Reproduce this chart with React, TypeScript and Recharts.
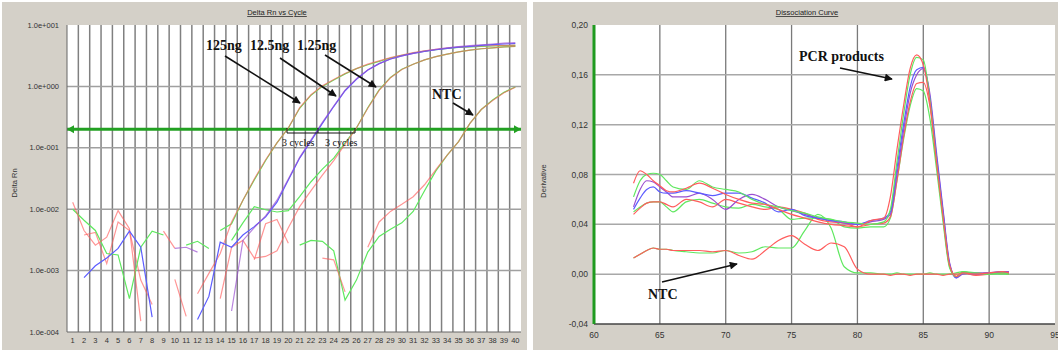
import { LineChart, Line, XAxis, YAxis, CartesianGrid, ReferenceLine } from 'recharts';

// ---- amplification plot (Delta Rn vs Cycle) ----
const cycles = [1, 2, 3, 4, 5, 6, 7, 8, 9, 10, 11, 12, 13, 14, 15, 16, 17, 18, 19, 20,
  21, 22, 23, 24, 25, 26, 27, 28, 29, 30, 31, 32, 33, 34, 35, 36, 37, 38, 39, 40];
const logTicks = [0.0001, 0.001, 0.01, 0.1, 1, 10];
const threshold = 0.2;

const g125 = [0.01, 0.0066, 0.0045, 0.0019, 0.0018, 0.00035, 0.0024, 0.0044, 0.0038, null,
  null, null, null, 0.0045, 0.0058, 0.014, 0.03, 0.062, 0.12, 0.21,
  0.44, 0.72, 1.0, 1.27, 1.6, 1.95, 2.25, 2.55, 2.9, 3.2,
  3.5, 3.75, 3.95, 4.15, 4.3, 4.4, 4.5, 4.55, 4.6, 4.65];
const r125 = [0.013, 0.0045, 0.0026, 0.0035, 0.0095, 0.0048, 0.00015, null, 0.0044, 0.0023,
  null, 0.00042, 0.0009, 0.0019, 0.0062, 0.014, 0.031, 0.064, 0.12, 0.21,
  0.45, 0.73, 1.02, 1.3, 1.62, 1.95, 2.3, 2.6, 2.95, 3.25,
  3.55, 3.8, 4.0, 4.2, 4.35, 4.45, 4.55, 4.6, 4.65, 4.7];
const b12 = [null, 0.00077, 0.0012, 0.0016, 0.0023, 0.0044, 0.0024, 0.000175, null, null,
  null, 0.00016, 0.00038, 0.0029, 0.0024, 0.0038, 0.0052, 0.0075, 0.013, 0.03,
  0.068, 0.13, 0.25, 0.47, 0.85, 1.3, 1.85, 2.35, 2.8, 3.15,
  3.45, 3.7, 3.95, 4.15, 4.35, 4.5, 4.65, 4.8, 4.9, 5.0];
const p12 = [null, null, null, null, null, null, null, null, null, 0.0023,
  0.0024, 0.002, null, null, 0.00022, 0.0031, 0.005, 0.0078, 0.014, 0.031,
  0.07, 0.135, 0.26, 0.48, 0.87, 1.33, 1.85, 2.35, 2.8, 3.15,
  3.45, 3.75, 4.0, 4.25, 4.45, 4.6, 4.75, 4.9, 5.05, 5.15];
const g1 = [null, null, null, null, null, null, null, null, null, null,
  null, null, null, null, 0.0031, 0.006, 0.011, 0.0098, 0.009, 0.0095,
  0.016, 0.028, 0.045, 0.068, 0.12, 0.21, 0.45, 0.88, 1.4, 1.9,
  2.3, 2.7, 3.05, 3.35, 3.65, 3.9, 4.1, 4.25, 4.4, 4.5];
const r1 = [null, null, null, null, null, null, null, null, null, 0.00072,
  0.00018, null, null, 0.00035, 0.0024, 0.0031, 0.0016, 0.0017, 0.0021, 0.005,
  0.011, 0.02, 0.036, 0.062, 0.115, 0.21, 0.44, 0.86, 1.38, 1.88,
  2.3, 2.7, 3.05, 3.35, 3.65, 3.9, 4.1, 4.25, 4.4, 4.5];
const gN = [null, null, null, null, null, null, null, null, null, null,
  0.0026, 0.003, 0.0023, null, null, null, null, null, null, null,
  0.0026, 0.0031, 0.003, 0.0021, 0.00033, 0.0007, 0.002, 0.0036, 0.0047, 0.006,
  0.0092, 0.02, 0.042, 0.076, 0.126, 0.25, 0.42, 0.6, 0.8, 0.98];
const rN = [null, 0.0038, 0.0042, 0.0013, 0.0062, 0.0045, 0.0007, 0.00028, null, null,
  null, null, null, null, null, null, 0.0015, 0.0058, 0.0068, 0.0028,
  null, null, 0.0016, 0.0015, 0.00045, null, 0.0024, 0.0062, 0.0092, 0.012,
  0.016, 0.025, 0.044, 0.076, 0.126, 0.25, 0.42, 0.59, 0.79, 0.97];

const ampRows = cycles.map((c, i) => ({
  cycle: c, g125: g125[i], r125: r125[i], b12: b12[i], p12: p12[i],
  g1: g1[i], r1: r1[i], gN: gN[i], rN: rN[i],
}));
const cycleGrid = cycles.slice(0, 39).map((c) => c + 0.5);

// ---- dissociation curve ----
const temps = [63, 63.5, 64, 64.5, 65, 65.5, 66, 67, 68, 69, 70, 71, 72, 73, 74, 75, 76, 77, 78, 79, 80, 81,
  82, 82.5, 83, 83.5, 84, 84.5, 85, 85.5, 86, 86.5, 87, 87.5, 88, 89, 90, 91, 91.5];
const meltR1 = [0.073, 0.083, 0.080, 0.075, 0.071, 0.067, 0.066, 0.069, 0.073, 0.069, 0.064, 0.060, 0.057, 0.056, 0.052, 0.048, 0.045, 0.042, 0.040, 0.039, 0.038, 0.043,
  0.045, 0.062, 0.100, 0.135, 0.165, 0.176, 0.168, 0.138, 0.090, 0.046, 0.007, -0.002, 0.001, 0.000, 0.001, 0.002, 0.001];
const meltG1 = [0.062, 0.075, 0.080, 0.081, 0.080, 0.075, 0.070, 0.068, 0.075, 0.070, 0.068, 0.066, 0.060, 0.056, 0.054, 0.051, 0.049, 0.046, 0.044, 0.042, 0.041, 0.040,
  0.042, 0.052, 0.090, 0.128, 0.160, 0.174, 0.172, 0.140, 0.090, 0.045, 0.006, -0.002, 0.001, 0.001, 0.000, 0.001, 0.000];
const meltB = [0.052, 0.061, 0.068, 0.070, 0.066, 0.065, 0.065, 0.067, 0.065, 0.063, 0.065, 0.065, 0.061, 0.057, 0.050, 0.052, 0.047, 0.045, 0.043, 0.042, 0.040, 0.043,
  0.045, 0.050, 0.085, 0.120, 0.150, 0.164, 0.166, 0.142, 0.095, 0.050, 0.008, -0.003, 0.001, 0.000, 0.001, 0.002, 0.001];
const meltP = [0.054, 0.068, 0.075, 0.074, 0.070, 0.066, 0.062, 0.062, 0.065, 0.060, 0.052, 0.060, 0.064, 0.060, 0.054, 0.051, 0.048, 0.045, 0.043, 0.041, 0.040, 0.042,
  0.044, 0.048, 0.080, 0.115, 0.145, 0.160, 0.165, 0.145, 0.098, 0.052, 0.009, -0.003, 0.000, 0.001, 0.001, 0.002, 0.002];
const meltR2 = [0.048, 0.053, 0.057, 0.058, 0.058, 0.056, 0.054, 0.060, 0.058, 0.054, 0.060, 0.057, 0.054, 0.052, 0.054, 0.052, 0.049, 0.044, 0.042, 0.041, 0.038, 0.040,
  0.041, 0.046, 0.075, 0.110, 0.138, 0.153, 0.154, 0.135, 0.092, 0.048, 0.007, -0.002, 0.001, 0.000, 0.001, 0.001, 0.002];
const meltG2 = [0.050, 0.054, 0.057, 0.058, 0.058, 0.054, 0.050, 0.058, 0.060, 0.057, 0.054, 0.053, 0.056, 0.054, 0.052, 0.044, 0.045, 0.045, 0.044, 0.038, 0.037, 0.038,
  0.038, 0.045, 0.075, 0.108, 0.135, 0.149, 0.147, 0.125, 0.085, 0.042, 0.005, -0.002, 0.002, 0.001, 0.000, 0.001, 0.000];
const meltGN = [0.013, 0.016, 0.019, 0.021, 0.020, 0.020, 0.019, 0.018, 0.017, 0.017, 0.019, 0.017, 0.018, 0.022, 0.021, 0.021, 0.035, 0.048, 0.037, 0.006, 0.001, 0.001,
  0.000, 0.000, 0.001, 0.000, 0.000, 0.000, 0.000, 0.001, 0.000, 0.000, 0.000, 0.001, 0.002, 0.000, 0.001, 0.000, 0.000];
const meltRN = [0.013, 0.016, 0.019, 0.021, 0.020, 0.020, 0.019, 0.019, 0.019, 0.018, 0.019, 0.015, 0.012, 0.019, 0.027, 0.031, 0.024, 0.019, 0.025, 0.022, 0.004, 0.000,
  0.000, -0.001, 0.000, 0.000, -0.001, 0.000, 0.000, 0.000, 0.000, -0.001, 0.000, 0.000, 0.001, -0.001, 0.000, 0.001, 0.000];

const meltRows = temps.map((t, i) => ({
  t, r1: meltR1[i], g1: meltG1[i], b: meltB[i], p: meltP[i],
  r2: meltR2[i], g2: meltG2[i], gN: meltGN[i], rN: meltRN[i],
}));
const tempTicks = [60, 65, 70, 75, 80, 85, 90, 95];
const derivTicks = [-0.04, 0, 0.04, 0.08, 0.12, 0.16, 0.2];

const GREEN = '#5fe85f';
const RED = '#ff5c5c';
const BLUE = '#5c5cff';
const PURPLE = '#9a4fd0';
const PANEL = '#d4d0c8';
const tickFont = { fontSize: 7.5, fill: '#333', fontFamily: 'Liberation Sans, Arial, sans-serif' };

const fmtExp = (v: number) => {
  const e = Math.round(Math.log10(v));
  return `1.0e${e < 0 ? '-' : '+'}${String(Math.abs(e)).padStart(3, '0')}`;
};
const fmtComma = (v: number) => v.toFixed(2).replace('.', ',');

const ThresholdShape = (p: any) => {
  const { x1, y1, x2, y2 } = p;
  return (
    <g>
      <line x1={x1} y1={y1} x2={x2} y2={y2} stroke="#22a022" strokeWidth={3} />
      <path d={`M${x1},${y1} l7,-4 l0,8 z`} fill="#22a022" />
      <path d={`M${x2},${y2} l-7,-4 l0,8 z`} fill="#22a022" />
    </g>
  );
};

function AmpChart() {
  const series: [string, string, number][] = [
    ['gN', GREEN, 1], ['rN', RED, 0.65], ['g1', GREEN, 1], ['r1', RED, 0.65],
    ['g125', GREEN, 1], ['r125', RED, 0.65], ['b12', BLUE, 1], ['p12', PURPLE, 0.7],
  ];
  return (
    <LineChart width={525} height={348} data={ampRows} margin={{ top: 23, right: 6, left: 0, bottom: 0 }}>
      <CartesianGrid fill="#fff" horizontal={false} vertical={false} />
      <XAxis dataKey="cycle" type="number" domain={[0.5, 40.5]} ticks={cycles} interval={0}
        tickLine={false} tickSize={0} tickMargin={6} height={18}
        axisLine={{ stroke: '#666' }} tick={tickFont} allowDataOverflow />
      <YAxis type="number" scale="log" domain={[0.0001, 10]} ticks={logTicks} interval={0}
        tickFormatter={fmtExp} width={65} tickLine={false} tickSize={0} tickMargin={8}
        axisLine={{ stroke: '#666' }} tick={tickFont} allowDataOverflow />
      {cycleGrid.map((x) => (
        <ReferenceLine key={`vx${x}`} x={x} stroke="#808080" strokeWidth={1.5} />
      ))}
      {logTicks.slice(1, 5).map((y) => (
        <ReferenceLine key={`hy${y}`} y={y} stroke="#a0a0a0" strokeWidth={1.5} />
      ))}
      <ReferenceLine y={threshold} shape={ThresholdShape} />
      {series.map(([k, c, o]) => (
        <Line key={k} dataKey={k} type="linear" stroke={c} strokeOpacity={o} strokeWidth={1.2} dot={false}
          connectNulls={false} isAnimationActive={false} />
      ))}
    </LineChart>
  );
}

function MeltChart() {
  const series: [string, string][] = [
    ['gN', GREEN], ['rN', RED], ['g2', GREEN], ['r2', RED],
    ['p', PURPLE], ['b', BLUE], ['g1', GREEN], ['r1', RED],
  ];
  return (
    <LineChart width={525} height={348} data={meltRows} margin={{ top: 23, right: 3, left: 0, bottom: 0 }}>
      <CartesianGrid fill="#fff" horizontal={false} vertical={false} />
      <XAxis dataKey="t" type="number" domain={[60, 95]} ticks={tempTicks} interval={0}
        tickLine={false} tickSize={0} tickMargin={8} height={26}
        axisLine={{ stroke: '#444', strokeWidth: 1.5 }} tick={{ ...tickFont, fontSize: 8.5 }} />
      <YAxis type="number" domain={[-0.04, 0.2]} ticks={derivTicks} interval={0}
        tickFormatter={fmtComma} width={61} tickLine={false} tickSize={0} tickMargin={6}
        axisLine={{ stroke: '#1f9a1f', strokeWidth: 3 }} tick={{ ...tickFont, fontSize: 8.5 }} />
      {tempTicks.slice(1, 7).map((x) => (
        <ReferenceLine key={`vx${x}`} x={x} stroke="#7a7a7a" strokeWidth={1.3} />
      ))}
      {derivTicks.slice(1, 6).map((y) => (
        <ReferenceLine key={`hy${y}`} y={y} stroke="#a8a8a8" strokeWidth={1.5} />
      ))}
      {series.map(([k, c]) => (
        <Line key={k} dataKey={k} type="monotone" stroke={c} strokeWidth={1.2} dot={false}
          isAnimationActive={false} />
      ))}
    </LineChart>
  );
}

function Overlay() {
  const serif = 'Liberation Serif, Times New Roman, serif';
  const sans = 'Liberation Sans, Arial, sans-serif';
  const arrow = { stroke: '#111', strokeWidth: 1.6, markerEnd: 'url(#head)' };
  return (
    <svg width={1058} height={354} style={{ position: 'absolute', left: 0, top: 0, pointerEvents: 'none' }}>
      <defs>
        <marker id="head" viewBox="0 0 10 10" refX="9" refY="5" markerWidth="6" markerHeight="5" orient="auto">
          <path d="M0,0 L10,5 L0,10 z" fill="#111" />
        </marker>
      </defs>
      <text x={277} y={15} fontSize={7.5} fontFamily={sans} textAnchor="middle" textDecoration="underline" fill="#222">Delta Rn vs Cycle</text>
      <text x={807} y={15} fontSize={7.5} fontFamily={sans} textAnchor="middle" textDecoration="underline" fill="#222">Dissociation Curve</text>
      <text transform="translate(17,183) rotate(-90)" fontSize={7.5} fontFamily={sans} textAnchor="middle" fill="#333">Delta Rn</text>
      <text transform="translate(546,181) rotate(-90)" fontSize={7.5} fontFamily={sans} textAnchor="middle" fill="#333">Derivative</text>

      <g fontFamily={serif} fontWeight="bold" fontSize={14} fill="#111">
        <text x={206} y={50}>125ng</text>
        <text x={250} y={50}>12.5ng</text>
        <text x={297} y={50}>1.25ng</text>
        <text x={432} y={99}>NTC</text>
        <text x={799} y={61}>PCR products</text>
        <text x={648} y={299}>NTC</text>
      </g>
      <line x1={225} y1={56} x2={300} y2={103} {...arrow} />
      <line x1={280} y1={58} x2={336} y2={96} {...arrow} />
      <line x1={325} y1={55} x2={376} y2={87} {...arrow} />
      <line x1={453} y1={103} x2={473} y2={115} {...arrow} />
      <line x1={840} y1={68} x2={892} y2={79} {...arrow} />
      <line x1={662} y1={282} x2={737} y2={264} {...arrow} />

      <path d="M287,128 L287,133 L355,133 L355,128 M318,128 L318,133" stroke="#111" strokeWidth={1} fill="none" />
      <g fontFamily={serif} fontSize={10} fill="#111">
        <text x={282} y={146}>3 cycles</text>
        <text x={325} y={146}>3 cycles</text>
      </g>
    </svg>
  );
}

export default function App() {
  return (
    <div style={{ position: 'absolute', left: 0, top: 0, width: 1058, height: 354, background: '#fff', overflow: 'hidden' }}>
      <div style={{ position: 'absolute', left: 2, top: 2, width: 525, height: 348, background: PANEL }}>
        <AmpChart />
      </div>
      <div style={{ position: 'absolute', left: 533, top: 2, width: 525, height: 348, background: PANEL }}>
        <MeltChart />
      </div>
      <Overlay />
    </div>
  );
}
